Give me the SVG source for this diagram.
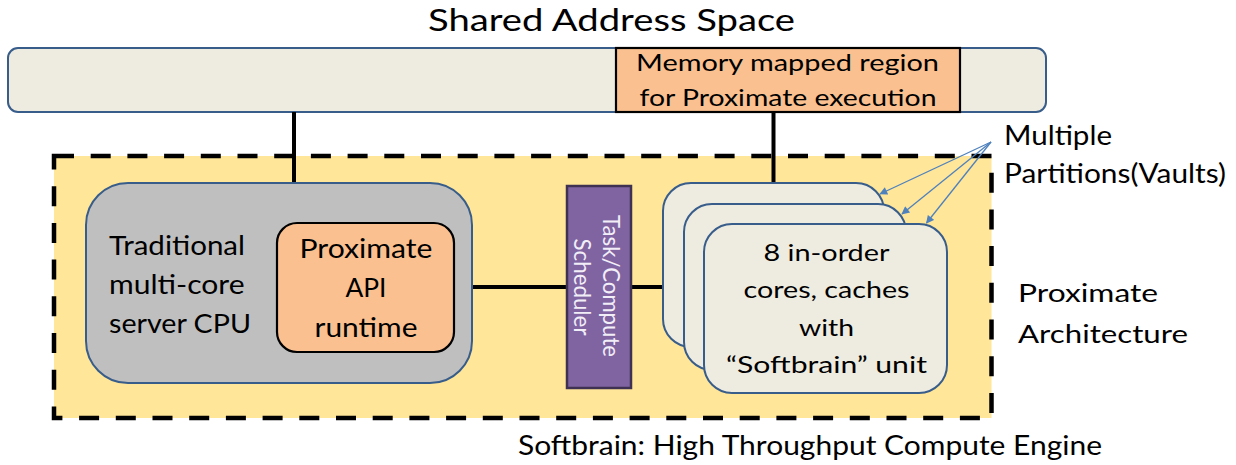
<svg xmlns="http://www.w3.org/2000/svg" width="1236" height="465" viewBox="0 0 1236 465">
  <defs>
    <marker id="ah" viewBox="0 0 10 10" refX="9" refY="5" markerWidth="10" markerHeight="8" markerUnits="userSpaceOnUse" orient="auto">
      <path d="M0,0 L10,5 L0,10 Z" fill="#4F81BD"/>
    </marker>
    <style>
      text { font-family: Lato, "Liberation Sans", sans-serif; fill: #000; }
      .blue { stroke: #385D8A; stroke-width: 2; }
      .pale { fill: #EEECE1; }
      .orange { fill: #FAC090; stroke: #000; stroke-width: 2.2; }
      .wire { stroke: #000; stroke-width: 4; fill: none; }
      .ptr { stroke: #4F81BD; stroke-width: 1.3; fill: none; marker-end: url(#ah); }
      .mid { text-anchor: middle; }
    </style>
  </defs>

  <rect width="1236" height="465" fill="#fff"/>

  <text x="611.5" y="31" font-size="31" class="mid" textLength="367" lengthAdjust="spacingAndGlyphs">Shared Address Space</text>

  <g id="shared-address-space">
    <rect x="8" y="48" width="1038" height="64" rx="10" class="pale blue"/>
  </g>

  <g id="memory-mapped-region">
    <rect x="616" y="48" width="344" height="64" class="orange"/>
    <text x="787.5" y="71" font-size="23" class="mid" textLength="303" lengthAdjust="spacingAndGlyphs">Memory mapped region</text>
    <text x="788" y="106" font-size="23" class="mid" textLength="297" lengthAdjust="spacingAndGlyphs">for Proximate execution</text>
  </g>

  <g id="proximate-architecture">
    <rect x="54" y="156" width="937.5" height="262" fill="#FFE699" stroke="#000" stroke-width="4.5" stroke-dasharray="20 16.7"/>
    <text x="1018" y="302" font-size="25" textLength="140" lengthAdjust="spacingAndGlyphs">Proximate</text>
    <text x="1018" y="343" font-size="25" textLength="170" lengthAdjust="spacingAndGlyphs">Architecture</text>
  </g>

  <g id="connectors">
    <line x1="294" y1="112" x2="294" y2="183" class="wire"/>
    <line x1="773.5" y1="112" x2="773.5" y2="183" class="wire"/>
    <line x1="454" y1="287" x2="567" y2="287" class="wire"/>
    <line x1="631" y1="287" x2="663" y2="287" class="wire"/>
  </g>

  <g id="cpu">
    <rect x="86" y="183" width="386" height="200" rx="42" fill="#BFBFBF" class="blue"/>
    <text x="109" y="255" font-size="27.5" textLength="136" lengthAdjust="spacingAndGlyphs">Traditional</text>
    <text x="109" y="294" font-size="27.5" textLength="135.5" lengthAdjust="spacingAndGlyphs">multi-core</text>
    <text x="109" y="333" font-size="27.5" textLength="142" lengthAdjust="spacingAndGlyphs">server CPU</text>
  </g>

  <g id="proximate-api-runtime">
    <rect x="277" y="223" width="177" height="129" rx="20" class="orange"/>
    <text x="366" y="258" font-size="26.5" class="mid" textLength="133" lengthAdjust="spacingAndGlyphs">Proximate</text>
    <text x="366" y="297" font-size="26.5" class="mid" textLength="41" lengthAdjust="spacingAndGlyphs">API</text>
    <text x="366" y="337" font-size="26.5" class="mid" textLength="103" lengthAdjust="spacingAndGlyphs">runtime</text>
  </g>

  <g id="task-compute-scheduler">
    <rect x="567" y="186" width="64" height="202" fill="#8064A2" stroke="#3F3151" stroke-width="2.5"/>
    <text transform="translate(603,286) rotate(90)" font-size="23" class="mid" style="fill:#F2EEF7" textLength="142" lengthAdjust="spacingAndGlyphs">Task/Compute</text>
    <text transform="translate(574,287) rotate(90)" font-size="23" class="mid" style="fill:#F2EEF7" textLength="97" lengthAdjust="spacingAndGlyphs">Scheduler</text>
  </g>

  <g id="vault-1">
    <rect x="663" y="183" width="221" height="164" rx="28" class="pale blue"/>
  </g>
  <g id="vault-2">
    <rect x="684" y="204" width="222" height="166" rx="28" class="pale blue"/>
  </g>
  <g id="vault-3">
    <rect x="704" y="224" width="243" height="169" rx="28" class="pale blue"/>
    <text x="826.5" y="261" font-size="22.5" class="mid" textLength="126" lengthAdjust="spacingAndGlyphs">8 in-order</text>
    <text x="826.5" y="298" font-size="22.5" class="mid" textLength="166" lengthAdjust="spacingAndGlyphs">cores, caches</text>
    <text x="826.5" y="336" font-size="22.5" class="mid" textLength="55" lengthAdjust="spacingAndGlyphs">with</text>
    <text x="826.5" y="373" font-size="22.5" class="mid" textLength="201" lengthAdjust="spacingAndGlyphs">“Softbrain” unit</text>
  </g>

  <g id="multiple-partitions-label">
    <text x="1004" y="145" font-size="26" textLength="108" lengthAdjust="spacingAndGlyphs">Multiple</text>
    <text x="1004" y="183" font-size="26" textLength="222" lengthAdjust="spacingAndGlyphs">Partitions(Vaults)</text>
  </g>

  <g id="partition-pointers">
    <line x1="991" y1="142" x2="880" y2="194" class="ptr"/>
    <line x1="991" y1="142" x2="902" y2="214" class="ptr"/>
    <line x1="991" y1="142" x2="926.5" y2="223" class="ptr"/>
  </g>

  <g id="softbrain-caption">
    <text x="518" y="455" font-size="26" textLength="584" lengthAdjust="spacingAndGlyphs">Softbrain: High Throughput Compute Engine</text>
  </g>
</svg>
